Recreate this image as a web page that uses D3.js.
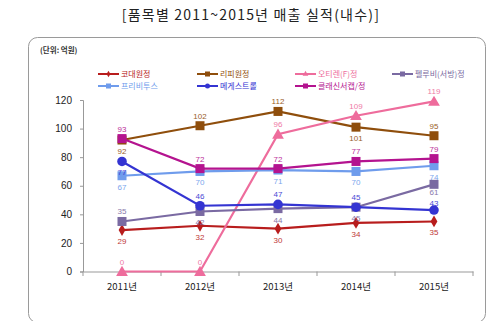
<!DOCTYPE html>
<html><head><meta charset="utf-8">
<script src="https://cdn.jsdelivr.net/npm/d3@7"></script>
<style>body{margin:0;background:#fff}svg{display:block}</style>
</head><body>
<script>
const categories = ["2011년","2012년","2013년","2014년","2015년"];
const yTicks = [0,20,40,60,80,100,120];
const seriesNames = ["코대원정","리피원정","오티렌(F)정","펠루비(서방)정","프리비투스","메게스트롤","클래신서캡/정"];
const codaewon = [29,32,30,34,35];
const lipiwon = [92,102,112,101,95];
const otilen = [0,0,96,109,119];
const pelubi = [35,42,44,45,61];
const levotus = [67,70,71,70,74];
const megestrol = [77,46,47,45,43];
const clacin = [93,72,72,77,79];
// label placement: a = above, b = below, s = tight above, t = tight below
const labelPos = [
  ["b","b","b","b","b"],
  ["b","a","a","b","a"],
  ["a","a","a","a","a"],
  ["a","b","b","b","t"],
  ["b","b","b","b","b"],
  ["b","a","a","a","s"],
  ["a","a","a","a","a"]
];
const colors = ["#b81d1d","#8f4e0c","#ee6c9c","#7a6aa2","#6f9cec","#3434d2","#b4138f"];
const markers = ["diamond","square","triangle","square","square","circle","square"];
const values = [codaewon,lipiwon,otilen,pelubi,levotus,megestrol,clacin];

const W=500,H=321;
const svg=d3.select("body").append("svg").attr("width",W).attr("height",H);
const kr="'Noto Sans CJK KR','Noto Sans',sans-serif";
const num="'Liberation Sans',Arial,sans-serif";

svg.append("text").attr("x",251).attr("y",20).attr("text-anchor","middle")
  .attr("font-family",kr).attr("font-size",14).attr("letter-spacing",1.2).attr("fill","#222")
  .text("[품목별 2011~2015년 매출 실적(내수)]");

svg.append("rect").attr("x",28.5).attr("y",37.5).attr("width",457).attr("height",285)
  .attr("rx",9).attr("fill","#fff").attr("stroke","#9a9a9a").attr("stroke-width",1);

svg.append("text").attr("x",40).attr("y",53).attr("font-family",kr).attr("font-size",7.5)
  .attr("font-weight","bold").attr("fill","#333").text("(단위: 억원)");

const x=d3.scaleBand().domain(categories).range([83,473]);
const y=d3.scaleLinear().domain([0,120]).range([271.5,100]);

const ya=svg.append("g").attr("transform","translate(83,0)")
  .call(d3.axisLeft(y).tickValues(yTicks).tickSize(3).tickPadding(8));
ya.select(".domain").attr("stroke","#999");
ya.selectAll(".tick line").attr("stroke","#999");
ya.selectAll("text").attr("font-family",num).attr("font-size",10).attr("fill","#222");

const xa=svg.append("g").attr("transform","translate(0,271.5)")
  .call(d3.axisBottom(x).tickSize(0).tickPadding(12));
xa.select(".domain").attr("stroke","#999");
xa.selectAll("text").attr("font-family",kr).attr("font-size",9.5).attr("fill","#222");
const bounds=categories.map(c=>x(c)).concat([x.range()[1]]);
svg.append("g").selectAll("line").data(bounds).join("line")
  .attr("x1",d=>d).attr("x2",d=>d).attr("y1",271.5).attr("y2",276)
  .attr("stroke","#999");

const cx=c=>x(c)+x.bandwidth()/2;
function marker(g,type,color,px,py){
  if(type==="square") g.append("rect").attr("x",px-4.5).attr("y",py-4.5).attr("width",9).attr("height",9).attr("fill",color);
  else if(type==="circle") g.append("circle").attr("cx",px).attr("cy",py).attr("r",4.8).attr("fill",color);
  else if(type==="triangle") g.append("path").attr("d",d3.symbol(d3.symbolTriangle,60)()).attr("transform",`translate(${px},${py+1})`).attr("fill",color);
  else g.append("path").attr("d",d3.symbol(d3.symbolDiamond,40)()).attr("transform",`translate(${px},${py})`).attr("fill",color);
}
const line=d3.line().x((d,i)=>cx(categories[i])).y(d=>y(d));
values.forEach((vals,si)=>{
  const g=svg.append("g");
  g.append("path").datum(vals).attr("d",line).attr("fill","none")
    .attr("stroke",colors[si]).attr("stroke-width",2.2);
  vals.forEach((v,i)=>marker(g,markers[si],colors[si],cx(categories[i]),y(v)));
});
const dyFor={a:-7,b:14,s:-4,t:10.5};
values.forEach((vals,si)=>{
  vals.forEach((v,i)=>{
    svg.append("text").attr("x",cx(categories[i])).attr("y",y(v)+dyFor[labelPos[si][i]])
      .attr("text-anchor","middle").attr("font-family",num).attr("font-size",8)
      .attr("fill",colors[si]).attr("opacity",0.9).text(v);
  });
});

const legX=[98,197,295,392], legY=[74,86];
seriesNames.forEach((n,i)=>{
  const col=i<4?i:i-4, row=i<4?0:1;
  const lx=legX[col], ly=legY[row];
  const g=svg.append("g");
  g.append("line").attr("x1",lx).attr("x2",lx+21).attr("y1",ly).attr("y2",ly)
    .attr("stroke",colors[i]).attr("stroke-width",2);
  const m=markers[i];
  if(m==="square") g.append("rect").attr("x",lx+8).attr("y",ly-2.5).attr("width",5).attr("height",5).attr("fill",colors[i]);
  else if(m==="circle") g.append("circle").attr("cx",lx+10.5).attr("cy",ly).attr("r",2.5).attr("fill",colors[i]);
  else if(m==="triangle") g.append("path").attr("d",d3.symbol(d3.symbolTriangle,14)()).attr("transform",`translate(${lx+10.5},${ly})`).attr("fill",colors[i]);
  else g.append("path").attr("d",d3.symbol(d3.symbolDiamond,12)()).attr("transform",`translate(${lx+10.5},${ly})`).attr("fill",colors[i]);
  g.append("text").attr("x",lx+23).attr("y",ly+3).attr("font-family",kr).attr("font-size",8)
    .attr("fill",colors[i]).text(n);
});
</script>
</body></html>
